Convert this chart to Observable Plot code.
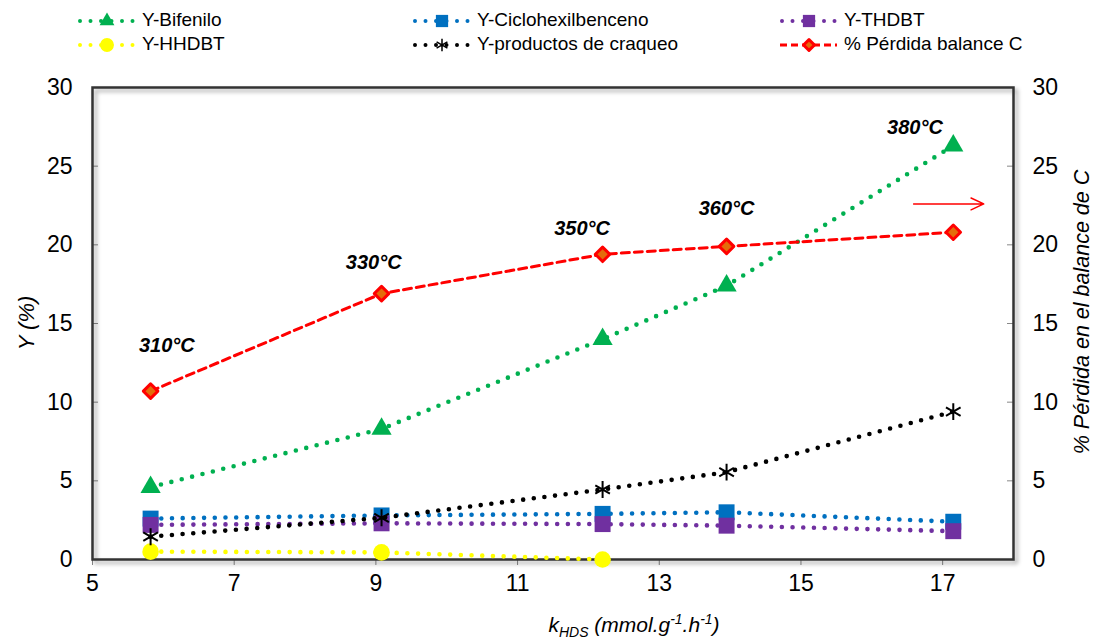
<!DOCTYPE html>
<html><head><meta charset="utf-8">
<script src="https://cdn.jsdelivr.net/npm/d3@7"></script>
<script src="https://cdn.jsdelivr.net/npm/@observablehq/plot@0.6"></script>
<style>
body{margin:0;background:#fff;font-family:"Liberation Sans",Arial,sans-serif;}
#legend svg,#chart svg{display:block}
#chart svg [aria-label="frame"]{filter:drop-shadow(3px 3px 2px rgba(0,0,0,0.35));}
</style></head><body>
<div id="legend"></div><div id="chart"></div>
<script>
// ---- data ----
const kHDS = [5.82, 9.08, 12.2, 13.95, 17.15];
const yBifenilo = [4.6, 8.3, 14.0, 17.4, 26.3];
const yCiclohexilbenceno = [2.6, 2.8, 2.9, 3.0, 2.4];
const yTHDBT = [2.2, 2.3, 2.25, 2.15, 1.8];
const yHHDBT = [0.5, 0.45, 0.0];
const yCraqueo = [1.45, 2.65, 4.45, 5.55, 9.4];
const perdidaC = [10.7, 16.9, 19.4, 19.9, 20.8];
const temperaturas = ["310°C", "330°C", "350°C", "360°C", "380°C"];
const tempLabelX = [6.05, 8.97, 11.91, 13.95, 16.61];
const tempLabelY = [13.6, 18.85, 21.05, 22.3, 27.45];
const xTicks = [5, 7, 9, 11, 13, 15, 17];
const yTicks = [0, 5, 10, 15, 20, 25, 30];
const arrowAnn = [{x1: 16.59, x2: 17.58, y: 22.6}];

const seriesNames = ["Y-Bifenilo", "Y-Ciclohexilbenceno", "Y-THDBT", "Y-HHDBT", "Y-productos de craqueo", "% Pérdida balance C"];
const seriesValues = [yBifenilo, yCiclohexilbenceno, yTHDBT, yHHDBT, yCraqueo, perdidaC];
const seriesColors = ["#00B050", "#0070C0", "#7030A0", "#FFFF00", "#000000", "#FF0000"];
const seriesSymbols = ["triangle", "square", "square", "circle", "asterisk", "diamond"];

// ---- styles ----
const W = 1097, H = 579, mL = 92, mR = 84, mT = 27, mB = 80;
const innerW = W - mL - mR;
const FONT = "Liberation Sans, Arial, sans-serif";

const rows = ys => ys.map((v, i) => ({x: kHDS[i], y: v}));

const seriesMarks = [];
seriesValues.forEach((vals, s) => {
  const data = rows(vals);
  const color = seriesColors[s];
  const sym = seriesSymbols[s];
  if (sym === "diamond") {
    seriesMarks.push(Plot.line(data, {x: "x", y: "y", stroke: color, strokeWidth: 3, strokeDasharray: "8,5"}));
    seriesMarks.push(Plot.dot(data, {x: "x", y: "y", symbol: "square", r: 5.8, rotate: 45, fill: "#E46C0A", stroke: color, strokeWidth: 3, strokeLinejoin: "round"}));
  } else {
    seriesMarks.push(Plot.line(data, {x: "x", y: "y", stroke: color, strokeWidth: 4.6, strokeDasharray: "0,10.7", strokeLinecap: "round"}));
    if (sym === "asterisk") {
      seriesMarks.push(Plot.dot(data, {x: "x", y: "y", symbol: "asterisk", r: 8, stroke: color, strokeWidth: 2}));
    } else {
      const r = sym === "triangle" ? 7.5 : sym === "square" ? 9 : 8.3;
      seriesMarks.push(Plot.dot(data, {x: "x", y: "y", symbol: sym, r, fill: color, stroke: "none"}));
    }
  }
});

const tempData = temperaturas.map((t, i) => ({t, x: tempLabelX[i], y: tempLabelY[i]}));

const plot = Plot.plot({
  width: W, height: H, marginLeft: mL, marginRight: mR, marginTop: mT, marginBottom: mB,
  style: {fontFamily: FONT, fontSize: "23px", color: "#000", background: "#fff"},
  x: {domain: [5, 18]},
  y: {domain: [0, 30]},
  marks: [
    Plot.axisX(xTicks, {tickSize: 6, tickPadding: 9, stroke: "#888", label: null, tickFormat: d => d}),
    Plot.axisY(yTicks, {anchor: "left", tickSize: 0, tickPadding: 20, label: null}),
    Plot.axisY(yTicks, {anchor: "right", tickSize: 0, tickPadding: 19, label: null}),
    Plot.tickY(yTicks, {y: d => d, stroke: "#888", insetRight: innerW - 6}),
    Plot.tickY(yTicks, {y: d => d, stroke: "#888", insetLeft: innerW - 6}),
    Plot.frame({stroke: "#333", strokeWidth: 2.5}),
    ...seriesMarks,
    Plot.text(tempData, {x: "x", y: "y", text: "t", fontWeight: "bold", fontStyle: "italic", fontSize: 20, fill: "#000"}),
    Plot.arrow(arrowAnn, {x1: "x1", x2: "x2", y1: "y", y2: "y", stroke: "#FF0000", strokeWidth: 1.5, headLength: 14, headAngle: 50})
  ]
});
document.getElementById("chart").appendChild(plot);

// axis titles
const svg = d3.select(plot);
const xt = svg.append("text")
  .attr("x", 634).attr("y", 572)
  .attr("text-anchor", "middle")
  .attr("font-family", FONT).attr("font-size", 21).attr("font-style", "italic").attr("fill", "#000");
xt.append("tspan").text("k");
xt.append("tspan").attr("font-size", 14).attr("dy", 5).text("HDS");
xt.append("tspan").attr("dy", -5).text(" (mmol.g");
xt.append("tspan").attr("font-size", 14).attr("dy", -8).text("-1");
xt.append("tspan").attr("dy", 8).text(".h");
xt.append("tspan").attr("font-size", 14).attr("dy", -8).text("-1");
xt.append("tspan").attr("dy", 8).text(")");

svg.append("text")
  .attr("transform", "translate(28,263) rotate(-90)")
  .attr("text-anchor", "middle").attr("dominant-baseline", "middle")
  .attr("font-family", FONT).attr("font-size", 22).attr("font-style", "italic").attr("fill", "#000")
  .text("Y (%)");
svg.append("text")
  .attr("transform", "translate(1083,252) rotate(-90)")
  .attr("text-anchor", "middle").attr("dominant-baseline", "middle")
  .attr("font-family", FONT).attr("font-size", 21.5).attr("font-style", "italic").attr("fill", "#000")
  .text("% Pérdida en el balance de C");

// ---- legend ----
const legendOrder = [0, 1, 2, 3, 4, 5];
const colX = [78, 413, 780];
const rowY = [21, 45];
const lg = d3.select("#legend").append("svg").attr("width", W).attr("height", 60);
legendOrder.forEach((s, k) => {
  const x0 = colX[k % 3], y0 = rowY[Math.floor(k / 3)];
  const g = lg.append("g");
  const color = seriesColors[s];
  const sym = seriesSymbols[s];
  if (sym === "diamond") {
    g.append("line").attr("x1", x0).attr("x2", x0 + 57).attr("y1", y0).attr("y2", y0)
      .attr("stroke", color).attr("stroke-width", 3).attr("stroke-dasharray", "7,4");
  } else {
    g.append("line").attr("x1", x0 + 2).attr("x2", x0 + 57).attr("y1", y0).attr("y2", y0)
      .attr("stroke", color).attr("stroke-width", 4).attr("stroke-linecap", "round").attr("stroke-dasharray", "0,10.5");
  }
  const cx = x0 + 29;
  if (sym === "triangle") {
    g.append("path").attr("d", d3.symbol(d3.symbolTriangle, 95)()).attr("transform", `translate(${cx},${y0})`).attr("fill", color);
  } else if (sym === "square") {
    g.append("path").attr("d", d3.symbol(d3.symbolSquare, 150)()).attr("transform", `translate(${cx},${y0})`).attr("fill", color);
  } else if (sym === "circle") {
    g.append("path").attr("d", d3.symbol(d3.symbolCircle, 150)()).attr("transform", `translate(${cx},${y0})`).attr("fill", color);
  } else if (sym === "asterisk") {
    g.append("path").attr("d", d3.symbol(d3.symbolAsterisk, 110)()).attr("transform", `translate(${cx},${y0})`).attr("fill", "none").attr("stroke", color).attr("stroke-width", 1.5);
  } else {
    g.append("path").attr("d", d3.symbol(d3.symbolSquare, 60)()).attr("transform", `translate(${cx},${y0}) rotate(45)`).attr("fill", "#E46C0A").attr("stroke", color).attr("stroke-width", 3).attr("stroke-linejoin", "round");
  }
  g.append("text").attr("x", x0 + 64).attr("y", y0).attr("dominant-baseline", "middle")
    .attr("font-family", FONT).attr("font-size", 19).attr("fill", "#000").text(seriesNames[s]);
});
</script>
</body></html>
